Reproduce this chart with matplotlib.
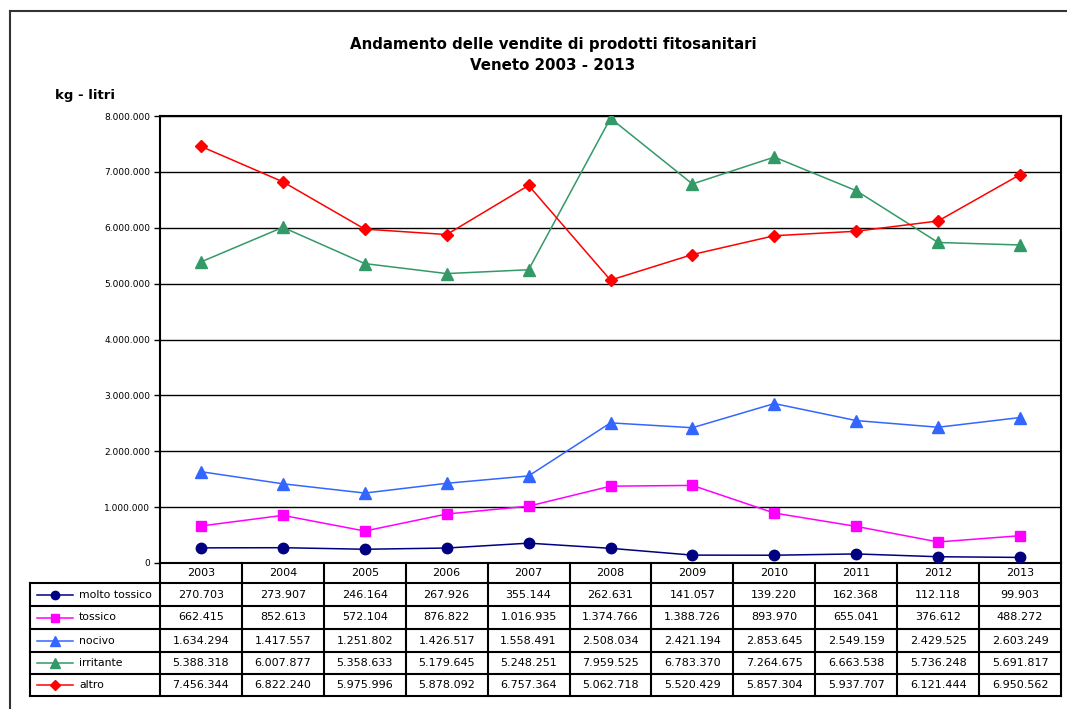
import numpy as np
import matplotlib.pyplot as plt
from matplotlib.lines import Line2D
from matplotlib.ticker import FuncFormatter

# =========================
# DATA (kg - litri, Veneto)
# =========================
years = [2003, 2004, 2005, 2006, 2007, 2008, 2009, 2010, 2011, 2012, 2013]
molto_tossico = [270703, 273907, 246164, 267926, 355144, 262631, 141057, 139220, 162368, 112118, 99903]
tossico = [662415, 852613, 572104, 876822, 1016935, 1374766, 1388726, 893970, 655041, 376612, 488272]
nocivo = [1634294, 1417557, 1251802, 1426517, 1558491, 2508034, 2421194, 2853645, 2549159, 2429525, 2603249]
irritante = [5388318, 6007877, 5358633, 5179645, 5248251, 7959525, 6783370, 7264675, 6663538, 5736248, 5691817]
altro = [7456344, 6822240, 5975996, 5878092, 6757364, 5062718, 5520429, 5857304, 5937707, 6121444, 6950562]

series_names = ["molto tossico", "tossico", "nocivo", "irritante", "altro"]
series_values = [molto_tossico, tossico, nocivo, irritante, altro]
series_colors = ["#000080", "#FF00FF", "#3366FF", "#339966", "#FF0000"]
series_markers = ["o", "s", "^", "^", "D"]
series_msize = [7.5, 7.5, 8.5, 8.5, 6.5]

W, H = 1067, 709


def fx(px):
    return px / W


def fy(py):
    return 1 - py / H


def dotted(v):
    return f"{int(round(v)):,}".replace(",", ".")


fig = plt.figure(figsize=(W / 100, H / 100), dpi=100)

# plot area in pixels
L, R, T, B = 160, 1061, 116, 563
ax = fig.add_axes([fx(L), fy(B), fx(R - L), (B - T) / H])

x = np.arange(len(years))
for name, vals, c, m, ms in zip(series_names, series_values, series_colors, series_markers, series_msize):
    ax.plot(x, vals, color=c, lw=1.1, marker=m, markersize=ms, markerfacecolor=c,
            markeredgecolor=c, zorder=3)

ax.set_xlim(-0.5, len(years) - 0.5)
ax.set_ylim(0, 8000000)
ax.set_yticks(np.arange(0, 8000001, 1000000))
ax.yaxis.set_major_formatter(FuncFormatter(lambda v, p: dotted(v)))
ax.tick_params(axis="y", labelsize=6.5, length=4, width=1, pad=3)
ax.set_xticks([])
ax.grid(axis="y", color="black", lw=1)
ax.set_axisbelow(True)
for s in ax.spines.values():
    s.set_linewidth(1.5)
    s.set_color("black")

# titles
fig.text(fx(553), fy(45), "Andamento delle vendite di prodotti fitosanitari",
         ha="center", va="center", fontsize=10.8, fontweight="bold")
fig.text(fx(553), fy(65), "Veneto 2003 - 2013",
         ha="center", va="center", fontsize=10.8, fontweight="bold")
fig.text(fx(55), fy(95), "kg - litri", ha="left", va="center", fontsize=9.5, fontweight="bold")

# outer frame (left and top)
fig.add_artist(Line2D([fx(10), fx(10)], [fy(11), 0], color="#333333", lw=1.5))
fig.add_artist(Line2D([fx(10), 1], [fy(11), fy(11)], color="#333333", lw=1.5))

# data table
row_edges = [563, 583, 606, 629, 652, 674, 696]
ncol = len(years)
col_w = (R - L) / ncol
col_edges = [L + i * col_w for i in range(ncol + 1)]
leg_left = 30
lw_t = 1.5

# header row
for i, yr in enumerate(years):
    fig.text(fx(L + (i + 0.5) * col_w), fy((row_edges[0] + row_edges[1]) / 2), str(yr),
             ha="center", va="center", fontsize=8)
for cx in col_edges:
    fig.add_artist(Line2D([fx(cx), fx(cx)], [fy(row_edges[0]), fy(row_edges[-1])], color="black", lw=lw_t))
for ry in row_edges[1:]:
    fig.add_artist(Line2D([fx(leg_left), fx(R)], [fy(ry), fy(ry)], color="black", lw=lw_t))
fig.add_artist(Line2D([fx(leg_left), fx(leg_left)], [fy(row_edges[1]), fy(row_edges[-1])], color="black", lw=lw_t))

for k, (name, vals, c, m, ms) in enumerate(zip(series_names, series_values, series_colors, series_markers, series_msize)):
    yc = fy((row_edges[k + 1] + row_edges[k + 2]) / 2)
    fig.add_artist(Line2D([fx(37), fx(73)], [yc, yc], color=c, lw=1.1))
    fig.add_artist(Line2D([fx(55)], [yc], color=c, marker=m, markersize=ms - 1.5,
                          markerfacecolor=c, markeredgecolor=c))
    fig.text(fx(79), yc, name, ha="left", va="center", fontsize=7.8)
    for i, v in enumerate(vals):
        fig.text(fx(L + (i + 0.5) * col_w), yc, dotted(v), ha="center", va="center", fontsize=8)

fig.savefig("out.png", dpi=100)
